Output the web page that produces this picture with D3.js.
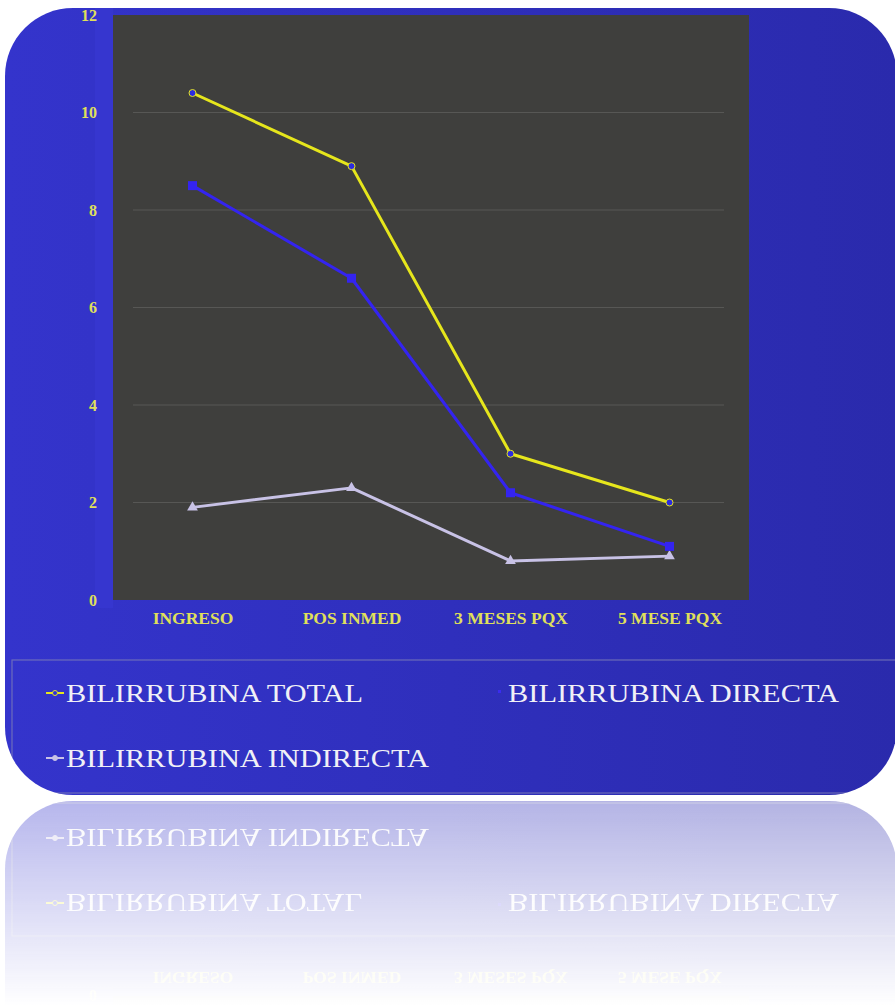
<!DOCTYPE html>
<html><head><meta charset="utf-8">
<script src="https://cdn.jsdelivr.net/npm/d3@7"></script>
<style>html,body{margin:0;padding:0;background:#fff;}svg{display:block;}</style>
</head><body>
<script>
const categories = ["INGRESO", "POS INMED", "3 MESES PQX", "5 MESE PQX"];
const total = [10.4, 8.9, 3.0, 2.0];
const directa = [8.5, 6.6, 2.2, 1.1];
const indirecta = [1.9, 2.3, 0.8, 0.9];
const yTicks = [0, 2, 4, 6, 8, 10, 12];
const seriesNames = ["BILIRRUBINA TOTAL", "BILIRRUBINA DIRECTA", "BILIRRUBINA INDIRECTA"];

(function () {
const W = 895, H = 1006;
const svg = d3.select("body").append("svg").attr("width", W).attr("height", H);
const defs = svg.append("defs");

const bg = defs.append("linearGradient").attr("id", "cardGrad").attr("x1", 0).attr("x2", 1).attr("y1", 0).attr("y2", 0);
bg.append("stop").attr("offset", 0).attr("stop-color", "#3434cc");
bg.append("stop").attr("offset", 1).attr("stop-color", "#2a2aac");

const fade = defs.append("linearGradient").attr("id", "fadeGrad").attr("x1", 0).attr("x2", 0).attr("y1", 0).attr("y2", 1);
fade.append("stop").attr("offset", 0).attr("stop-color", "#fff").attr("stop-opacity", 1);
fade.append("stop").attr("offset", 1).attr("stop-color", "#fff").attr("stop-opacity", 0);
const mask = defs.append("mask").attr("id", "fadeMask").attr("maskUnits", "userSpaceOnUse")
  .attr("x", 0).attr("y", 798).attr("width", W).attr("height", 210);
mask.append("rect").attr("x", 0).attr("y", 798).attr("width", W).attr("height", 208).attr("fill", "url(#fadeGrad)");

defs.append("clipPath").attr("id", "cardClip").append("rect")
  .attr("x", 5).attr("y", 8).attr("width", 892).attr("height", 787).attr("rx", 68).attr("ry", 68);

const card = defs.append("g").attr("id", "card");
card.append("rect").attr("x", 5).attr("y", 8).attr("width", 892).attr("height", 787)
  .attr("rx", 68).attr("ry", 68).attr("fill", "url(#cardGrad)");
card.append("rect").attr("x", 95).attr("y", 8).attr("width", 18).attr("height", 600).attr("fill", "#3a3ad6").attr("opacity", 0.5);

const pL = 113, pR = 749, pT = 15, pB = 600;
card.append("rect").attr("x", pL).attr("y", pT).attr("width", pR - pL).attr("height", pB - pT).attr("fill", "#3f3f3d");

const x = d3.scalePoint().domain(categories).range([pL, pR]).padding(0.5);
const y = d3.scaleLinear().domain([0, 12]).range([pB, pT]);

card.append("g").selectAll("line").data(yTicks.filter(d => d > 0 && d < 12)).join("line")
  .attr("x1", pL + 20).attr("x2", pR - 25).attr("y1", d => y(d)).attr("y2", d => y(d))
  .attr("stroke", "#626260").attr("stroke-width", 1).attr("opacity", 0.7);

const yAxis = d3.axisLeft(y).tickValues(yTicks).tickSize(0).tickPadding(0).tickFormat(d3.format("d"));
const ya = card.append("g").attr("transform", `translate(${97},0)`).call(yAxis);
ya.select(".domain").remove();
ya.selectAll("text").attr("fill", "#e0e05a").attr("font-family", "Liberation Serif, serif")
  .attr("font-size", 16).attr("font-weight", "bold");

const xAxis = d3.axisBottom(x).tickSize(0).tickPadding(0);
const xa = card.append("g").attr("transform", `translate(0,${612})`).call(xAxis);
xa.select(".domain").remove();
xa.selectAll("text").attr("fill", "#e0e05a").attr("font-family", "Liberation Serif, serif")
  .attr("font-size", 17.5).attr("font-weight", "bold").attr("dy", "0.71em");

const line = d3.line().x((d, i) => x(categories[i])).y(d => y(d));

const series = [
  {name: seriesNames[0], data: total, color: "#e6e61c", marker: "dot"},
  {name: seriesNames[1], data: directa, color: "#3424f0", marker: "square"},
  {name: seriesNames[2], data: indirecta, color: "#c8c2e6", marker: "triangle"}
];

[series[2], series[1], series[0]].forEach(s => {
  card.append("path").datum(s.data).attr("d", line).attr("fill", "none")
    .attr("stroke", s.color).attr("stroke-width", 3).attr("stroke-linejoin", "round");
  const g = card.append("g");
  s.data.forEach((v, i) => {
    const cx = x(categories[i]), cy = y(v);
    if (s.marker === "dot") {
      g.append("circle").attr("cx", cx).attr("cy", cy).attr("r", 3.5).attr("fill", "#2b2be0").attr("stroke", s.color).attr("stroke-width", 1);
    } else if (s.marker === "square") {
      g.append("rect").attr("x", cx - 4.5).attr("y", cy - 4.5).attr("width", 9).attr("height", 9).attr("fill", s.color);
    } else {
      g.append("path").attr("d", d3.symbol(d3.symbolTriangle, 50)()).attr("transform", `translate(${cx},${cy})`).attr("fill", s.color);
    }
  });
});

card.append("rect").attr("x", 12).attr("y", 660).attr("width", 900).attr("height", 133)
  .attr("fill", "none").attr("stroke", "#7a7ab8").attr("stroke-width", 1.2).attr("opacity", 0.8)
  .attr("clip-path", "url(#cardClip)");
const legendPos = [[46, 693], [494, 693], [46, 758]];
const legendLen = [297, 331, 363];
series.forEach((s, i) => {
  const [lx, ly] = legendPos[i];
  const lg = card.append("g").attr("transform", `translate(${lx},${ly})`);
  if (i === 1) {
    lg.append("rect").attr("x", 4).attr("y", -3).attr("width", 3).attr("height", 3).attr("fill", "#3a2cf0");
  } else {
    lg.append("line").attr("x1", 0).attr("x2", 18).attr("y1", 0).attr("y2", 0).attr("stroke", s.color).attr("stroke-width", 2);
    lg.append("circle").attr("cx", 9).attr("cy", 0).attr("r", 2.5).attr("fill", i === 0 ? "#2b2be0" : s.color).attr("stroke", s.color);
  }
  lg.append("text").attr("x", i === 1 ? 14 : 20).attr("y", 0).attr("dy", "0.35em")
    .attr("fill", "#f0f0f6").attr("font-family", "Liberation Serif, serif").attr("font-size", 26)
    .attr("textLength", legendLen[i]).attr("lengthAdjust", "spacingAndGlyphs")
    .text(s.name);
});

svg.append("use").attr("href", "#card");
const refl = svg.append("g").attr("mask", "url(#fadeMask)");
refl.append("use").attr("href", "#card").attr("transform", "translate(0,1596) scale(1,-1)").attr("opacity", 0.36);
})();
</script>
</body></html>
